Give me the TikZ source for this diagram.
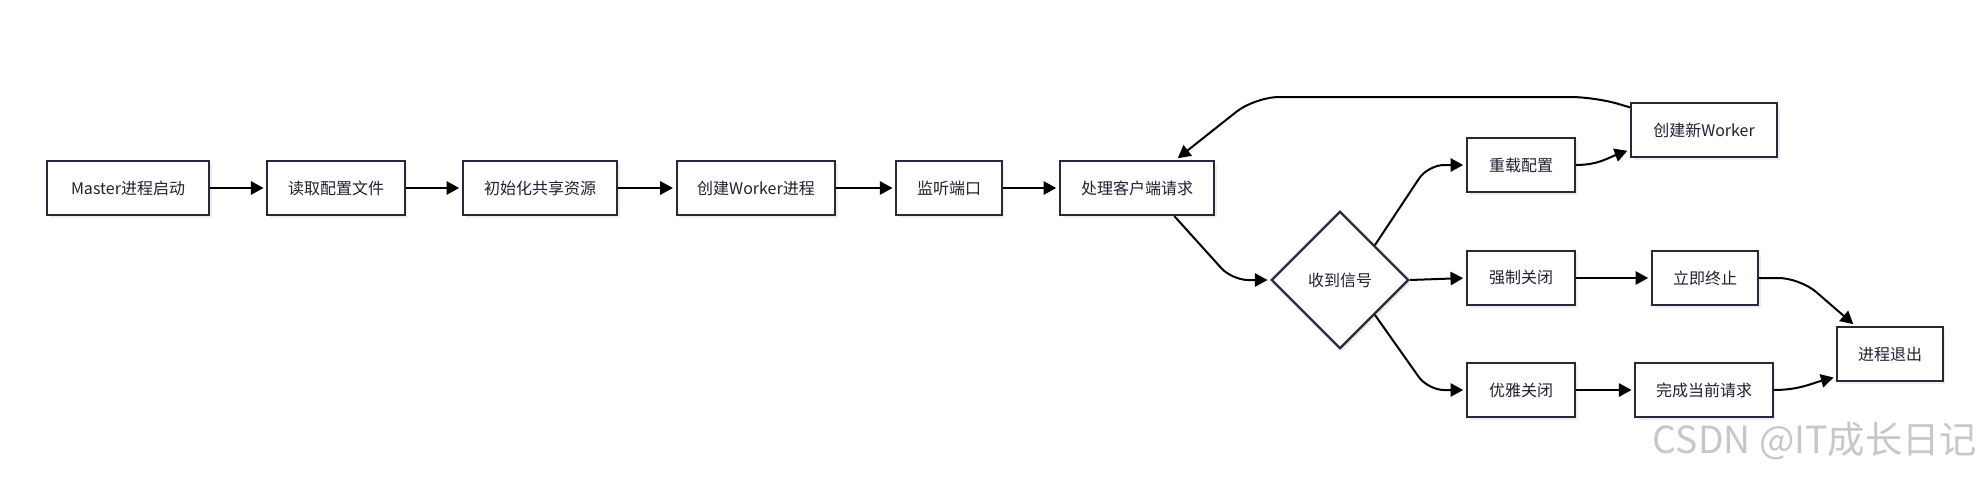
\documentclass[tikz,border=0pt]{standalone}
\usepackage{fontspec}
\setmainfont{Noto Sans CJK SC}
\usetikzlibrary{arrows.meta,shapes.geometric,shadows}
\definecolor{boxline}{RGB}{40,40,60}
\tikzset{
  box/.style={draw=boxline, line width=1.7pt, fill=white, minimum height=40.5pt,
    inner sep=0pt, text=boxline!80!black, font=\fontsize{12}{14}\selectfont,
    drop shadow={shadow xshift=2pt, shadow yshift=-2.5pt, fill=black!12}},
  choice/.style={box, diamond, minimum width=103pt, minimum height=103pt},
  flow/.style={line width=1.5pt, shorten >=2pt, -{Triangle[length=9.5pt,width=10pt]}},
}
\begin{document}
\begin{tikzpicture}[x=0.75pt,y=-0.75pt]
  \useasboundingbox (0,0) rectangle (1984,476);
  \draw
    (128,188) node[box, minimum width=121.5pt] (m){Master进程启动}
    (336,188) node[box, minimum width=103pt] (r){读取配置文件}
    (540,188) node[box, minimum width=115.5pt] (i){初始化共享资源}
    (756,188) node[box, minimum width=119pt] (c){创建Worker进程}
    (949,188) node[box, minimum width=79pt] (l){监听端口}
    (1137,188) node[box, minimum width=115.5pt] (p){处理客户端请求}
    (1340,280) node[choice] (s){收到信号}
    (1521,165) node[box, minimum width=81pt] (rl){重载配置}
    (1704,130) node[box, minimum width=109.5pt] (nw){创建新Worker}
    (1521,278) node[box, minimum width=81pt] (f){强制关闭}
    (1705,278) node[box, minimum width=79.5pt] (k){立即终止}
    (1521,390) node[box, minimum width=81pt] (g){优雅关闭}
    (1704,390) node[box, minimum width=103pt] (d){完成当前请求}
    (1890,354) node[box, minimum width=79pt] (e){进程退出};
  \node[text=black!22, font=\fontsize{28}{30}\selectfont] (wm) at (1815,441) {CSDN @IT成长日记};
  \begin{scope}[flow]
    \draw (m) to (r);
    \draw (r) to (i);
    \draw (i) to (c);
    \draw (c) to (l);
    \draw (l) to (p);
    \draw[rounded corners=12pt] (p.-37) -- (1232,280) -- (s.west);
    \draw[rounded corners=12pt] (s.45) -- (1428,165) -- (rl.west);
    \draw (s.east) to (f.west);
    \draw[rounded corners=12pt] (s.-45) -- (1428,390) -- (g.west);
    \draw (rl.east) to[out=0,in=200] (nw.195);
    \draw[rounded corners=18pt] (nw.163) -- (1595,97) -- (1255,97) -- (p.36);
    \draw (f) to (k);
    \draw[rounded corners=16pt] (k.east) -- (1800,278) -- (e.141);
    \draw (g) to (d);
    \draw (d.east) to[out=0,in=195] (e.203);
  \end{scope}
\end{tikzpicture}
\end{document}
